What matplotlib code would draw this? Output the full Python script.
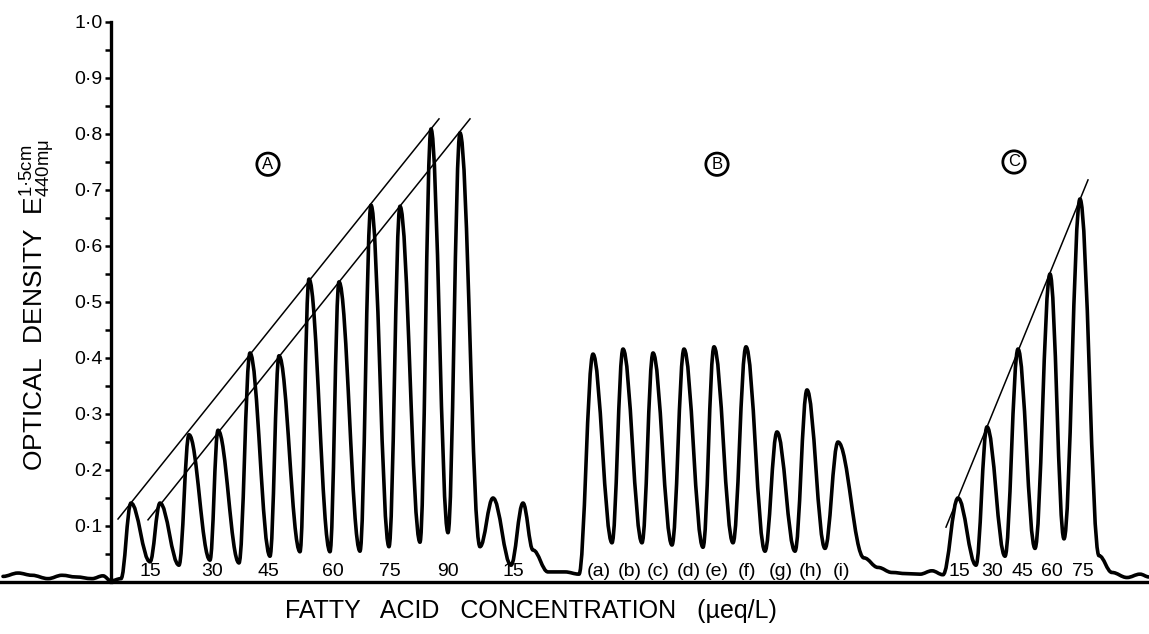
import matplotlib
matplotlib.use("Agg")
import matplotlib.pyplot as plt
from matplotlib.path import Path
from matplotlib.patches import PathPatch
from matplotlib.ticker import FixedLocator

plt.rcParams['font.family'] = ['Liberation Sans', 'DejaVu Sans']
plt.rcParams['mathtext.fontset'] = 'custom'
plt.rcParams['mathtext.rm'] = 'Liberation Sans'
plt.rcParams['mathtext.it'] = 'Liberation Sans'

# position along the recorder strip (arbitrary chart units) and optical density
peak_pos = [131, 160, 189, 218, 250, 279, 309, 339, 371, 400, 431, 460, 493, 523,
            593, 623, 653, 684, 714, 746, 777, 807, 838,
            958, 987, 1018, 1050, 1080]
peak_od = [0.141, 0.141, 0.263, 0.271, 0.409, 0.404, 0.541, 0.536, 0.673, 0.671,
           0.809, 0.802, 0.150, 0.141,
           0.407, 0.416, 0.409, 0.416, 0.420, 0.420, 0.268, 0.343, 0.250,
           0.150, 0.277, 0.416, 0.550, 0.684]

trough_pos = [150, 179, 210, 239, 270, 300, 330, 360, 389, 420, 448, 480, 511,
              612, 642, 672, 703, 733, 765, 795, 825,
              976, 1005, 1035, 1064]
trough_od = [0.036, 0.030, 0.039, 0.034, 0.046, 0.054, 0.054, 0.055, 0.063, 0.071,
             0.088, 0.063, 0.030,
             0.070, 0.070, 0.066, 0.062, 0.070, 0.055, 0.055, 0.060,
             0.030, 0.046, 0.060, 0.077]

# baseline wiggle and shoulders
base_pos = [3, 18, 32, 48, 62, 76, 92, 103, 111, 121,
            533, 548, 565, 579,
            864, 878, 892, 906, 920, 932, 943,
            1099, 1112, 1127, 1140, 1149]
base_od = [0.010, 0.016, 0.012, 0.006, 0.012, 0.009, 0.006, 0.011, 0.002, 0.006,
           0.057, 0.018, 0.018, 0.014,
           0.043, 0.026, 0.017, 0.015, 0.014, 0.020, 0.013,
           0.047, 0.017, 0.008, 0.014, 0.009]

# straight lines through the peak tops
line_start_pos = [118, 148, 946]
line_start_od = [0.1125, 0.111, 0.098]
line_end_pos = [439, 470, 1088]
line_end_od = [0.827, 0.827, 0.718]

conc_pos_a = [150, 212, 268, 333, 390, 448, 513]
conc_labels_a = ['15', '30', '45', '60', '75', '90', '15']
sample_pos_b = [599, 630, 658, 689, 717, 747, 781, 811, 842]
sample_labels_b = ['(a)', '(b)', '(c)', '(d)', '(e)', '(f)', '(g)', '(h)', '(i)']
conc_pos_c = [959, 992, 1022, 1052, 1083]
conc_labels_c = ['15', '30', '45', '60', '75']

section_pos = [268, 717, 1014]
section_od = [0.746, 0.746, 0.75]
section_names = ['A', 'B', 'C']

y_ticks = [0.1, 0.2, 0.3, 0.4, 0.5, 0.6, 0.7, 0.8, 0.9, 1.0]
y_tick_labels = ['0·1', '0·2', '0·3', '0·4', '0·5', '0·6', '0·7', '0·8', '0·9', '1·0']
y_minor = [0.05, 0.15, 0.25, 0.35, 0.45, 0.55, 0.65, 0.75, 0.85, 0.95]

fig = plt.figure(figsize=(11.49, 6.34), dpi=100)
ax = fig.add_axes([0, 0, 1, 1])
ax.set_xlim(0, 1149)
ax.set_ylim(-52 / 560, 582 / 560)

# trace: smooth curve through the read-off points, flat tangent at each point
pts = sorted(zip(peak_pos + trough_pos + base_pos, peak_od + trough_od + base_od))
verts = [pts[0]]
codes = [Path.MOVETO]
for (x0, y0), (x1, y1) in zip(pts[:-1], pts[1:]):
    d = (x1 - x0) * 0.38
    verts += [(x0 + d, y0), (x1 - d, y1), (x1, y1)]
    codes += [Path.CURVE4] * 3
ax.add_patch(PathPatch(Path(verts, codes), fill=False, lw=2.6, ec='black',
                       joinstyle='round', capstyle='round'))

for xs, ys, xe, ye in zip(line_start_pos, line_start_od, line_end_pos, line_end_od):
    ax.plot([xs, xe], [ys, ye], color='black', lw=1.1)

ax.axhline(0, color='black', lw=2.4)

for sp in ['top', 'right', 'bottom']:
    ax.spines[sp].set_visible(False)
ax.spines['left'].set_position(('data', 111))
ax.spines['left'].set_bounds(0, 1.0)
ax.spines['left'].set_linewidth(2.4)
ax.set_xticks([])
ax.yaxis.set_major_locator(FixedLocator(y_ticks))
ax.yaxis.set_minor_locator(FixedLocator(y_minor))
ax.set_yticklabels(y_tick_labels)
ax.tick_params(axis='y', which='both', direction='out', length=4, width=1.8, pad=2,
               labelsize=14)

for x, s in zip(conc_pos_a + sample_pos_b + conc_pos_c,
                conc_labels_a + sample_labels_b + conc_labels_c):
    ax.text(x, 0.003, s, ha='center', va='bottom', fontsize=14)

for x, y, s in zip(section_pos, section_od, section_names):
    ax.text(x, y, s, ha='center', va='center', fontsize=12,
            bbox=dict(boxstyle='circle,pad=0.22', fc='none', ec='black', lw=2.0))

ax.text(531, -0.051, 'FATTY   ACID   CONCENTRATION   (µeq/L)', ha='center',
        va='center', fontsize=18)
ax.text(38, 0.495, 'OPTICAL  DENSITY  $\\mathrm{E^{1·5cm}_{440mμ}}$', rotation=90,
        ha='center', va='center', fontsize=19)

fig.savefig('out.png', dpi=100)
